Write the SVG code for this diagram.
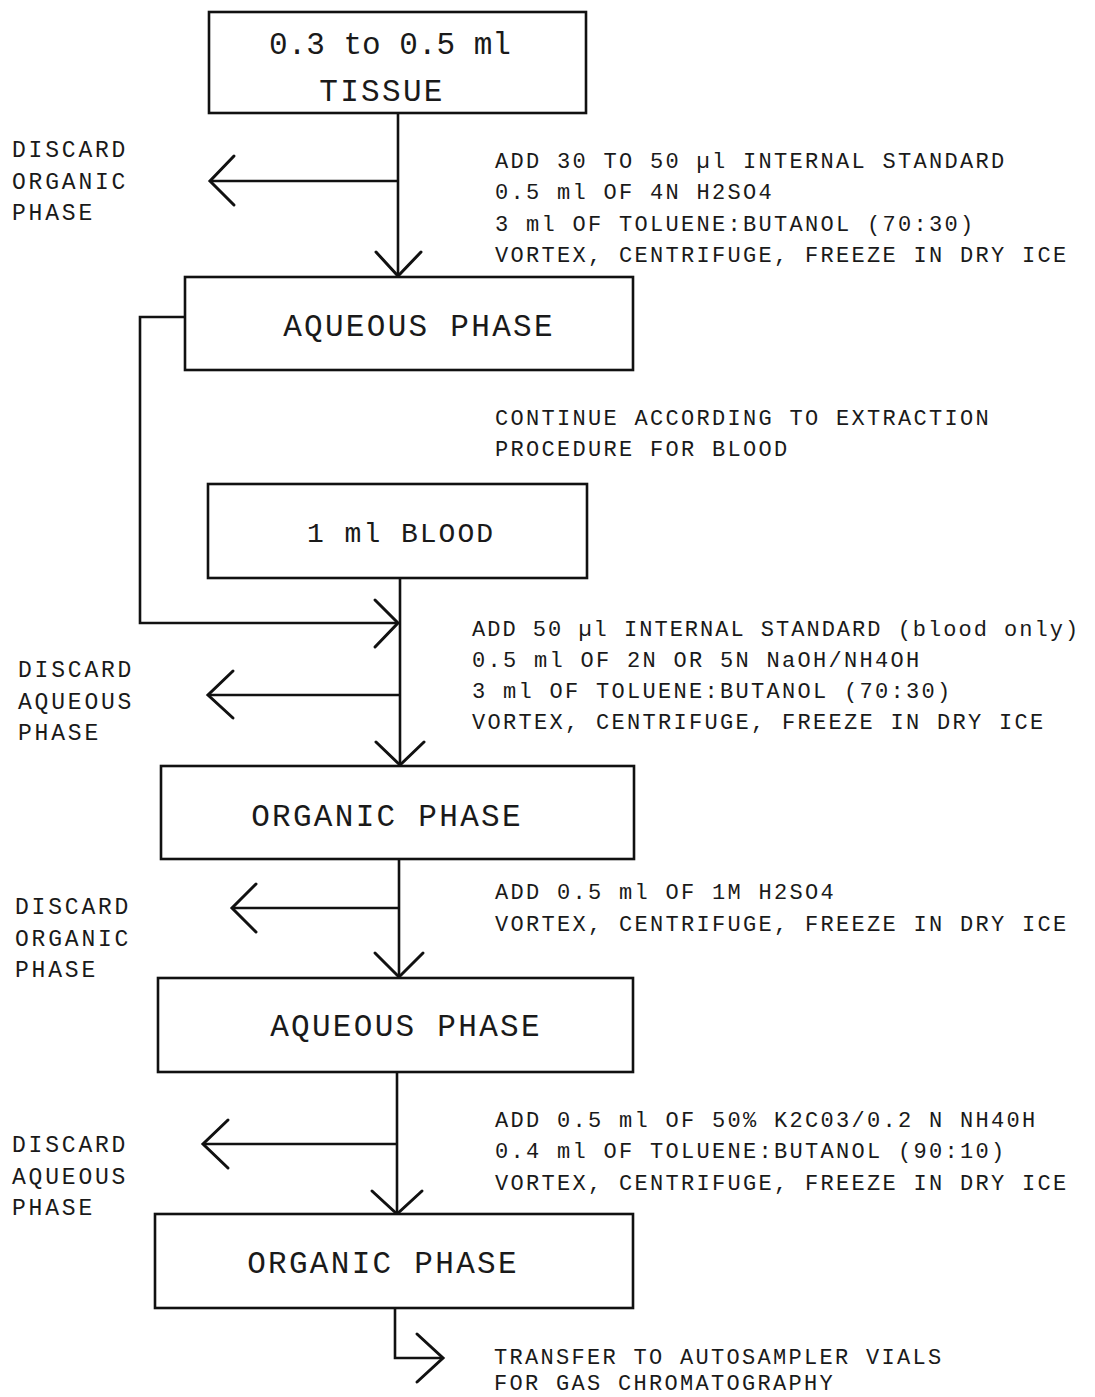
<svg xmlns="http://www.w3.org/2000/svg" width="1095" height="1397" viewBox="0 0 1095 1397">
<style>
  .box { fill: #fff; stroke: #111; stroke-width: 2.6; }
  .ln { fill: none; stroke: #111; stroke-width: 2.6; }
  .hd { fill: none; stroke: #111; stroke-width: 3; stroke-linecap: round; stroke-linejoin: miter; }
  text { font-family: "Liberation Mono", "Courier New", monospace; fill: #1a1a1a; }
  .bl { font-size: 31px; letter-spacing: 2.3px; text-anchor: middle; }
  .nt { font-size: 22px; letter-spacing: 2.3px; }
  .lf { font-size: 23px; letter-spacing: 2.8px; }
</style>
<rect width="1095" height="1397" fill="#fff"/>

<g id="connectors">
  <line class="ln" x1="398" y1="112" x2="398" y2="276"/>
  <line class="ln" x1="398" y1="181" x2="211" y2="181"/>
  <polyline class="hd" points="234,156 210,181 234,205"/>
  <polyline class="hd" points="376,252 398,276 421,252"/>

  <polyline class="ln" points="185,317 140,317 140,623 397,623"/>
  <polyline class="hd" points="375,600 398,623 375,647"/>

  <line class="ln" x1="400" y1="578" x2="400" y2="765"/>
  <line class="ln" x1="400" y1="695" x2="209" y2="695"/>
  <polyline class="hd" points="233,671 208,695 233,718"/>
  <polyline class="hd" points="376,742 400,765 424,742"/>

  <line class="ln" x1="399" y1="859" x2="399" y2="977"/>
  <line class="ln" x1="399" y1="908" x2="233" y2="908"/>
  <polyline class="hd" points="256,884 232,908 256,932"/>
  <polyline class="hd" points="375,953 399,977 423,953"/>

  <line class="ln" x1="397" y1="1072" x2="397" y2="1214"/>
  <line class="ln" x1="397" y1="1144" x2="204" y2="1144"/>
  <polyline class="hd" points="228,1120 203,1144 228,1168"/>
  <polyline class="hd" points="372,1191 397,1214 422,1191"/>

  <polyline class="ln" points="395,1308 395,1358 442,1358"/>
  <polyline class="hd" points="417,1334 443,1358 417,1382"/>
</g>

<g id="node-tissue">
  <rect class="box" x="209" y="12" width="377" height="101"/>
  <text class="bl" x="390" y="54" style="letter-spacing:0px">0.3 to 0.5 ml</text>
  <text class="bl" x="382" y="101">TISSUE</text>
</g>

<g id="node-aqueous1">
  <rect class="box" x="185" y="277" width="448" height="93"/>
  <text class="bl" x="419" y="336">AQUEOUS PHASE</text>
</g>

<g id="node-blood">
  <rect class="box" x="208" y="484" width="379" height="94"/>
  <text class="bl" x="401" y="542" style="font-size:28px;letter-spacing:2px">1 ml BLOOD</text>
</g>

<g id="node-organic1">
  <rect class="box" x="161" y="766" width="473" height="93"/>
  <text class="bl" x="387" y="826">ORGANIC PHASE</text>
</g>

<g id="node-aqueous2">
  <rect class="box" x="158" y="978" width="475" height="94"/>
  <text class="bl" x="406" y="1036">AQUEOUS PHASE</text>
</g>

<g id="node-organic2">
  <rect class="box" x="155" y="1214" width="478" height="94"/>
  <text class="bl" x="383" y="1273">ORGANIC PHASE</text>
</g>

<g id="notes">
  <text class="lf" x="12" y="157">DISCARD</text>
  <text class="lf" x="12" y="189">ORGANIC</text>
  <text class="lf" x="12" y="220">PHASE</text>

  <text class="nt" x="495" y="168">ADD 30 TO 50 µl INTERNAL STANDARD</text>
  <text class="nt" x="495" y="199">0.5 ml OF 4N H2SO4</text>
  <text class="nt" x="495" y="231">3 ml OF TOLUENE:BUTANOL (70:30)</text>
  <text class="nt" x="495" y="262">VORTEX, CENTRIFUGE, FREEZE IN DRY ICE</text>

  <text class="nt" x="495" y="425">CONTINUE ACCORDING TO EXTRACTION</text>
  <text class="nt" x="495" y="456">PROCEDURE FOR BLOOD</text>

  <text class="nt" x="472" y="636" style="letter-spacing:2px">ADD 50 µl INTERNAL STANDARD (blood only)</text>
  <text class="nt" x="472" y="667">0.5 ml OF 2N OR 5N NaOH/NH4OH</text>
  <text class="nt" x="472" y="698">3 ml OF TOLUENE:BUTANOL (70:30)</text>
  <text class="nt" x="472" y="729">VORTEX, CENTRIFUGE, FREEZE IN DRY ICE</text>

  <text class="lf" x="18" y="677">DISCARD</text>
  <text class="lf" x="18" y="709">AQUEOUS</text>
  <text class="lf" x="18" y="740">PHASE</text>

  <text class="nt" x="495" y="899">ADD 0.5 ml OF 1M H2SO4</text>
  <text class="nt" x="495" y="931">VORTEX, CENTRIFUGE, FREEZE IN DRY ICE</text>

  <text class="lf" x="15" y="914">DISCARD</text>
  <text class="lf" x="15" y="946">ORGANIC</text>
  <text class="lf" x="15" y="977">PHASE</text>

  <text class="nt" x="495" y="1127">ADD 0.5 ml OF 50% K2C03/0.2 N NH40H</text>
  <text class="nt" x="495" y="1158">0.4 ml OF TOLUENE:BUTANOL (90:10)</text>
  <text class="nt" x="495" y="1190">VORTEX, CENTRIFUGE, FREEZE IN DRY ICE</text>

  <text class="lf" x="12" y="1152">DISCARD</text>
  <text class="lf" x="12" y="1184">AQUEOUS</text>
  <text class="lf" x="12" y="1215">PHASE</text>

  <text class="nt" x="494" y="1364">TRANSFER TO AUTOSAMPLER VIALS</text>
  <text class="nt" x="494" y="1390">FOR GAS CHROMATOGRAPHY</text>
</g>
</svg>
